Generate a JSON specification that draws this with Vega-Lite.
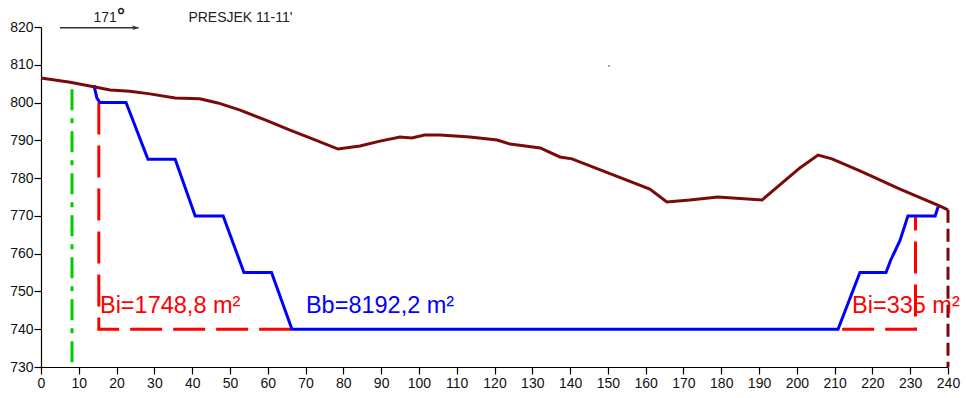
{
  "$schema": "https://vega.github.io/schema/vega-lite/v6.json",
  "autosize": "none",
  "width": 907,
  "height": 340,
  "padding": {"left": 41, "top": 27, "right": 18, "bottom": 31},
  "background": "white",
  "config": {
    "view": {"stroke": null},
    "font": "Liberation Sans",
    "axis": {"grid": false, "domainColor": "#000", "domainWidth": 1.2, "tickColor": "#000", "tickWidth": 1.2, "tickSize": 7,
      "labelFontSize": 14, "labelColor": "#111", "labelFont": "Liberation Sans", "labelFlush": false, "labelOverlap": false, "title": null}
  },
  "datasets": {
    "lines": [
      {"s": "teren", "o": 1, "x": 0, "y": 806.5},
      {"s": "teren", "o": 2, "x": 7.7, "y": 805.4},
      {"s": "teren", "o": 3, "x": 14.3, "y": 804.1},
      {"s": "teren", "o": 4, "x": 18.3, "y": 803.3},
      {"s": "teren", "o": 5, "x": 23.5, "y": 803.0},
      {"s": "teren", "o": 6, "x": 28.8, "y": 802.3},
      {"s": "teren", "o": 7, "x": 35.5, "y": 801.2},
      {"s": "teren", "o": 8, "x": 42.0, "y": 801.0},
      {"s": "teren", "o": 9, "x": 46.8, "y": 799.9},
      {"s": "teren", "o": 10, "x": 52.7, "y": 798.0},
      {"s": "teren", "o": 11, "x": 59.3, "y": 795.4},
      {"s": "teren", "o": 12, "x": 65.9, "y": 792.7},
      {"s": "teren", "o": 13, "x": 72.5, "y": 790.1},
      {"s": "teren", "o": 14, "x": 78.6, "y": 787.7},
      {"s": "teren", "o": 15, "x": 84.4, "y": 788.5},
      {"s": "teren", "o": 16, "x": 89.7, "y": 789.8},
      {"s": "teren", "o": 17, "x": 95.0, "y": 790.9},
      {"s": "teren", "o": 18, "x": 98.1, "y": 790.6},
      {"s": "teren", "o": 19, "x": 101.5, "y": 791.4},
      {"s": "teren", "o": 20, "x": 105.6, "y": 791.4},
      {"s": "teren", "o": 21, "x": 113.5, "y": 790.9},
      {"s": "teren", "o": 22, "x": 120.7, "y": 790.1},
      {"s": "teren", "o": 23, "x": 124.1, "y": 789.0},
      {"s": "teren", "o": 24, "x": 132.1, "y": 788.0},
      {"s": "teren", "o": 25, "x": 137.3, "y": 785.6},
      {"s": "teren", "o": 26, "x": 140.5, "y": 785.1},
      {"s": "teren", "o": 27, "x": 161.1, "y": 777.1},
      {"s": "teren", "o": 28, "x": 165.6, "y": 773.7},
      {"s": "teren", "o": 29, "x": 171.7, "y": 774.2},
      {"s": "teren", "o": 30, "x": 179.1, "y": 775.0},
      {"s": "teren", "o": 31, "x": 190.8, "y": 774.2},
      {"s": "teren", "o": 32, "x": 200.8, "y": 782.7},
      {"s": "teren", "o": 33, "x": 205.6, "y": 786.1},
      {"s": "teren", "o": 34, "x": 209.3, "y": 785.1},
      {"s": "teren", "o": 35, "x": 216.7, "y": 781.9},
      {"s": "teren", "o": 36, "x": 227.3, "y": 777.1},
      {"s": "teren", "o": 37, "x": 237.9, "y": 772.6},
      {"s": "teren", "o": 38, "x": 240.0, "y": 771.6},
      {"s": "terenv", "o": 1, "x": 240.0, "y": 771.6},
      {"s": "terenv", "o": 2, "x": 240.0, "y": 730},
      {"s": "iskop", "o": 1, "x": 14.0, "y": 804.6},
      {"s": "iskop", "o": 2, "x": 14.8, "y": 801.2},
      {"s": "iskop", "o": 3, "x": 15.6, "y": 800},
      {"s": "iskop", "o": 4, "x": 22.5, "y": 800},
      {"s": "iskop", "o": 5, "x": 28.3, "y": 785},
      {"s": "iskop", "o": 6, "x": 35.5, "y": 785},
      {"s": "iskop", "o": 7, "x": 40.8, "y": 770},
      {"s": "iskop", "o": 8, "x": 48.2, "y": 770},
      {"s": "iskop", "o": 9, "x": 53.7, "y": 755},
      {"s": "iskop", "o": 10, "x": 61.0, "y": 755},
      {"s": "iskop", "o": 11, "x": 66.4, "y": 740},
      {"s": "iskop", "o": 12, "x": 210.9, "y": 740},
      {"s": "iskop", "o": 13, "x": 216.7, "y": 755},
      {"s": "iskop", "o": 14, "x": 223.6, "y": 755},
      {"s": "iskop", "o": 15, "x": 224.8, "y": 758.2},
      {"s": "iskop", "o": 16, "x": 227.3, "y": 763.5},
      {"s": "iskop", "o": 17, "x": 229.4, "y": 770},
      {"s": "iskop", "o": 18, "x": 236.6, "y": 770},
      {"s": "iskop", "o": 19, "x": 237.4, "y": 772.4},
      {"s": "bi1", "o": 1, "x": 15.3, "y": 800},
      {"s": "bi1", "o": 2, "x": 15.3, "y": 740},
      {"s": "bi1", "o": 3, "x": 66.4, "y": 740},
      {"s": "bi2", "o": 1, "x": 212.0, "y": 740},
      {"s": "bi2", "o": 2, "x": 231.4, "y": 740},
      {"s": "bi2", "o": 3, "x": 231.4, "y": 770},
      {"s": "os", "o": 1, "x": 8.2, "y": 803.5},
      {"s": "os", "o": 2, "x": 8.2, "y": 730},
      {"s": "arrow", "o": 1, "x": 5.0, "y": 819.8},
      {"s": "arrow", "o": 2, "x": 25.8, "y": 819.8},
      {"s": "dot", "o": 1, "x": 150.3, "y": 809.7}
    ],
    "labels": [
      {"t": "Bi=1748,8 m²", "x": 15.6, "y": 744.4, "c": "red"},
      {"t": "Bb=8192,2 m²", "x": 70.1, "y": 744.4, "c": "blue"},
      {"t": "Bi=335 m²", "x": 214.6, "y": 744.4, "c": "red2"}
    ],
    "top": [
      {"k": "txt", "t": "171", "x": 13.9, "y": 822.5},
      {"k": "deg", "t": "°", "x": 20.1, "y": 821.4},
      {"k": "txt", "t": "PRESJEK 11-11'", "x": 39.0, "y": 822.5}
    ]
  },
  "encoding": {
    "x": {"field": "x", "type": "quantitative", "scale": {"domain": [0, 240], "nice": false},
      "axis": {"values": [0,10,20,30,40,50,60,70,80,90,100,110,120,130,140,150,160,170,180,190,200,210,220,230,240], "labelPadding": 2}},
    "y": {"field": "y", "type": "quantitative", "scale": {"domain": [730, 820], "nice": false, "zero": false},
      "axis": {"values": [730,740,750,760,770,780,790,800,810,820], "labelPadding": 1}}
  },
  "layer": [
    {
      "data": {"name": "lines"},
      "transform": [{"filter": "datum.s === 'os'"}],
      "mark": {"type": "line", "color": "#00cc00", "strokeWidth": 3, "strokeDash": [21, 8, 5, 8], "clip": false},
      "encoding": {"order": {"field": "o"}}
    },
    {
      "data": {"name": "lines"},
      "transform": [{"filter": "datum.s === 'bi1' || datum.s === 'bi2'"}],
      "mark": {"type": "line", "color": "#ff0000", "strokeWidth": 3, "strokeDash": [32, 11], "clip": false},
      "encoding": {"detail": {"field": "s"}, "order": {"field": "o"}}
    },
    {
      "data": {"name": "lines"},
      "transform": [{"filter": "datum.s === 'iskop'"}],
      "mark": {"type": "line", "color": "#0000ff", "strokeWidth": 3, "clip": false},
      "encoding": {"order": {"field": "o"}}
    },
    {
      "data": {"name": "lines"},
      "transform": [{"filter": "datum.s === 'teren'"}],
      "mark": {"type": "line", "color": "#7a0a0a", "strokeWidth": 3, "clip": false},
      "encoding": {"order": {"field": "o"}}
    },
    {
      "data": {"name": "lines"},
      "transform": [{"filter": "datum.s === 'terenv'"}],
      "mark": {"type": "line", "color": "#7a0a0a", "strokeWidth": 3, "strokeDash": [13, 6], "clip": false},
      "encoding": {"order": {"field": "o"}}
    },
    {
      "data": {"name": "lines"},
      "transform": [{"filter": "datum.s === 'arrow'"}],
      "mark": {"type": "line", "color": "#333", "strokeWidth": 1.3, "clip": false},
      "encoding": {"order": {"field": "o"}}
    },
    {
      "data": {"name": "lines"},
      "transform": [{"filter": "datum.s === 'arrow' && datum.o === 2"}],
      "mark": {"type": "point", "shape": "M-1,-0.4L0,0L-1,0.4L-0.75,0Z", "size": 160, "filled": true, "color": "#333", "opacity": 1, "clip": false},
      "encoding": {}
    },
    {
      "data": {"name": "lines"},
      "transform": [{"filter": "datum.s === 'dot'"}],
      "mark": {"type": "point", "shape": "square", "size": 2, "filled": true, "color": "#333", "opacity": 1, "clip": false},
      "encoding": {}
    },
    {
      "data": {"name": "labels"},
      "mark": {"type": "text", "align": "left", "baseline": "alphabetic", "fontSize": 23.5, "font": "Liberation Sans", "clip": false},
      "encoding": {
        "text": {"field": "t"},
        "color": {"field": "c", "type": "nominal", "scale": {"domain": ["red", "blue", "red2"], "range": ["#ff0000", "#0000ff", "#ff0000"]}, "legend": null}
      }
    },
    {
      "data": {"name": "top"},
      "transform": [{"filter": "datum.k === 'txt'"}],
      "mark": {"type": "text", "align": "left", "baseline": "middle", "fontSize": 14, "font": "Liberation Sans", "color": "#222", "clip": false},
      "encoding": {"text": {"field": "t"}}
    },
    {
      "data": {"name": "top"},
      "transform": [{"filter": "datum.k === 'deg'"}],
      "mark": {"type": "text", "align": "left", "baseline": "alphabetic", "fontSize": 20, "fontWeight": "bold", "font": "Liberation Sans", "color": "#222", "clip": false},
      "encoding": {"text": {"field": "t"}}
    }
  ]
}
